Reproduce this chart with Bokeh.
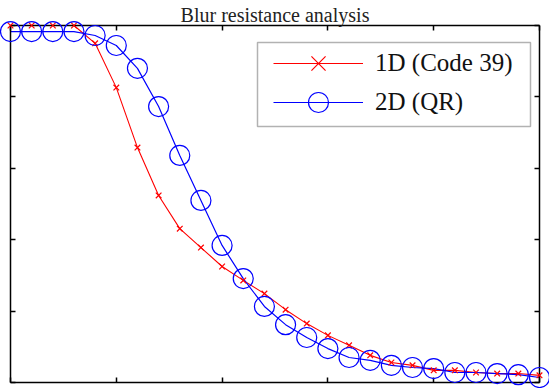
from bokeh.plotting import figure
from bokeh.models import (ColumnDataSource, Range1d, LinearAxis, FixedTicker,
                          Legend, LegendItem, BoxAnnotation)
from bokeh.embed import file_html
from bokeh.resources import INLINE

# blur level (x) and recognition rate (y)
blur = [0.0, 0.2, 0.4, 0.6, 0.8, 1.0, 1.2, 1.4, 1.6, 1.8, 2.0, 2.2, 2.4,
        2.6, 2.8, 3.0, 3.2, 3.4, 3.6, 3.8, 4.0, 4.2, 4.4, 4.6, 4.8, 5.0]
code39 = [1.0, 1.0, 1.0, 1.0, 0.950, 0.826, 0.658, 0.524, 0.431, 0.378,
          0.325, 0.286, 0.249, 0.204, 0.165, 0.132, 0.104, 0.076, 0.056,
          0.048, 0.034, 0.034, 0.028, 0.025, 0.025, 0.020]
qr = [0.983, 0.983, 0.983, 0.983, 0.972, 0.944, 0.880, 0.773, 0.636, 0.510,
      0.384, 0.291, 0.213, 0.162, 0.126, 0.095, 0.070, 0.062, 0.048, 0.042,
      0.039, 0.028, 0.028, 0.025, 0.022, 0.014]
x_ticks = [0, 1, 2, 3, 4, 5]
y_ticks = [0, 0.2, 0.4, 0.6, 0.8, 1.0]
title_text = "Blur resistance analysis"
labels = ["1D (Code 39)", "2D (QR)"]

src = ColumnDataSource(dict(x=blur, a=code39, b=qr))

p = figure(width=549, height=388, output_backend="svg", toolbar_location=None,
           x_range=Range1d(0, 5), y_range=Range1d(0, 1),
           min_border_left=10, min_border_right=10, min_border_top=25,
           min_border_bottom=6, background_fill_color="white",
           border_fill_color="white", title=title_text)
p.title.text_font = "Liberation Serif"
p.title.text_font_size = "20px"
p.title.text_font_style = "normal"
p.title.text_color = "#222222"
p.title.align = "center"
p.title.standoff = 0
p.title.offset = 0
p.outline_line_color = None
p.grid.visible = False

p.add_layout(LinearAxis(), "right")
p.add_layout(LinearAxis(), "above")
for ax in p.axis:
    ax.major_label_text_font_size = "0px"
    ax.major_tick_in = 5
    ax.major_tick_out = 0
    ax.minor_tick_line_color = None
    ax.axis_line_color = "black"
    ax.axis_line_width = 1.5
    ax.major_tick_line_color = "black"
    ax.major_tick_line_width = 1.5
    ax.major_label_standoff = 0
for ax in p.xaxis:
    ax.ticker = FixedTicker(ticks=x_ticks)
for ax in p.yaxis:
    ax.ticker = FixedTicker(ticks=y_ticks)

red = "#ff0000"
blue = "#0000ff"
l1 = p.line("x", "a", source=src, line_color=red, line_width=1.1)
m1 = p.scatter("x", "a", source=src, marker="x", size=8, line_color=red,
               line_width=1.2, level="overlay")
l2 = p.line("x", "b", source=src, line_color=blue, line_width=1.2)
m2 = p.scatter("x", "b", source=src, marker="circle", size=20, fill_color=None,
               line_color=blue, line_width=1.2, level="overlay")

common = dict(padding=0, margin=0, spacing=0, glyph_width=90, glyph_height=50,
              label_standoff=12, label_text_font="Liberation Serif",
              label_text_font_size="25px", label_text_color="#111111",
              border_line_color=None, background_fill_alpha=0)
leg1 = Legend(items=[LegendItem(label=labels[0], renderers=[l1, m1])],
              location=(263, 294), **common)
leg2 = Legend(items=[LegendItem(label=labels[1], renderers=[l2, m2])],
              location=(263, 255), **common)
p.add_layout(leg1)
p.add_layout(leg2)

box = BoxAnnotation(left=257, right=530, top=42, bottom=126,
                    left_units="canvas", right_units="canvas",
                    top_units="canvas", bottom_units="canvas",
                    fill_color=None, line_color="black", line_width=1.5)
p.add_layout(box)

open("out.html", "w").write(file_html(p, INLINE))
